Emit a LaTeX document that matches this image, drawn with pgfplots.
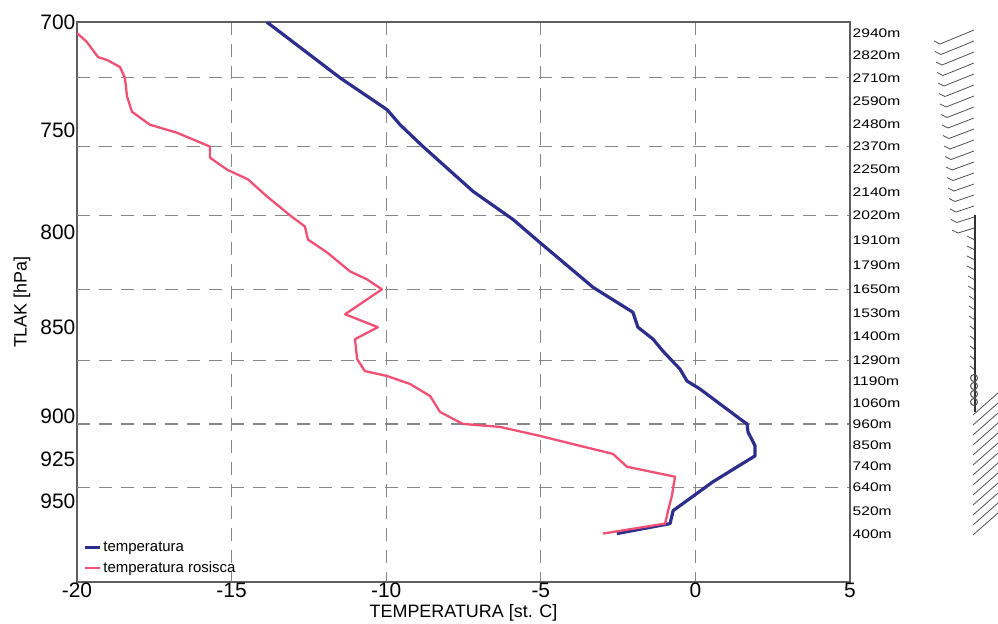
\documentclass[border=0pt]{standalone}
\usepackage{fontspec}
\setmainfont{Liberation Sans}
\usepackage{graphicx}
\usepackage{pgfplots}
\pgfplotsset{compat=1.18}

\definecolor{tblue}{RGB}{45,45,140}
\definecolor{tpink}{RGB}{240,80,115}
\definecolor{gridgray}{RGB}{135,135,135}
\definecolor{axgray}{RGB}{95,95,95}
\definecolor{barbgray}{RGB}{80,80,80}
\newcommand{\hl}[1]{\scalebox{1.25}[1]{#1}}

\begin{document}
\begin{tikzpicture}
\path[use as bounding box] (-77bp,-42bp) rectangle (921bp,582bp);

% main sounding
\begin{axis}[
    name=main, at={(0,0)}, anchor=south west,
    scale only axis, width=773bp, height=560bp,
    xmin=-20, xmax=5,
    ymode=log, y dir=reverse, ymin=700, ymax=1000,
    xtick={-20,-15,-10,-5,0,5}, xticklabels={-20,-15,-10,-5,0,5},
    ytick={700,750,800,850,900,925,950},
    yticklabels={700,750,800,850,900,925,950},
    yminorticks=false,
    xmajorgrids,
    grid style={gridgray, dash pattern=on 13bp off 9bp, line width=1.2bp},
    extra y ticks={725.34,757.82,791.75,829.84,868.14,904.14,941.64},
    extra y tick labels={},
    extra y tick style={grid=major},
    major tick length=0,
    axis line style={axgray, line width=1.5bp},
    tick label style={font=\fontsize{21}{24}\selectfont},
    xticklabel style={inner sep=1bp},
    yticklabel style={inner sep=1.5bp},
    xlabel={TEMPERATURA [st. C]},
    ylabel={TLAK [hPa]},
    xlabel style={at={(axis description cs:0.5,-0.054)}, anchor=center, font=\fontsize{18}{20}\selectfont},
    ylabel style={at={(axis description cs:-0.0712,0.5)}, anchor=center, font=\fontsize{18}{20}\selectfont},
    legend style={at={(0.004,0.08)}, anchor=north west, draw=none, fill=none,
        font=\fontsize{15}{17}\selectfont, row sep=5bp, cells={anchor=west}},
    legend image code/.code={\draw[#1] (0bp,0bp) -- (15bp,0bp);},
]
\addplot[tblue, line width=3.2bp, line join=round] coordinates {
    (-13.86,700) (-13.01,708.94) (-11.49,725.34) (-9.97,740.23) (-9.55,747.30)
    (-8.81,757.82) (-7.19,779.78) (-5.90,793.77) (-5.03,805.45) (-3.31,828.79)
    (-2.02,842.07) (-1.86,850.11) (-1.37,856.61) (-1.05,863.16) (-0.50,873.08)
    (-0.27,879.78) (0.15,884.26) (1.44,901.24) (1.67,904.14) (1.70,908.74)
    (1.93,916.86) (1.93,922.70) (0.57,938.06) (-0.72,955.49) (-0.82,963.41)
    (-2.54,969.54)
};
\addlegendentry{temperatura}
\addplot[tpink, line width=2.3bp, line join=round] coordinates {
    (-20.00,704.9) (-19.68,708.94) (-19.32,715.73) (-19.03,717.10) (-18.61,720.29)
    (-18.45,725.34) (-18.38,734.14) (-18.22,741.17) (-17.64,747.30) (-16.77,751.11)
    (-15.70,757.82) (-15.70,763.12) (-15.15,768.96) (-14.47,773.86) (-13.86,782.25)
    (-13.11,791.75) (-12.63,797.31) (-12.53,803.92) (-11.91,810.58) (-11.17,820.41)
    (-10.62,824.59) (-10.14,829.84) (-11.33,843.12) (-10.27,850.11) (-11.01,856.61)
    (-10.94,867.55) (-10.69,874.19) (-9.97,876.97) (-9.23,881.43) (-8.58,888.18)
    (-8.26,897.25) (-7.52,904.14) (-6.32,905.86) (-5.03,911.05) (-3.73,916.86)
    (-2.67,921.53) (-2.21,929.16) (-0.66,935.08) (-0.76,946.43) (-0.89,956.10)
    (-0.98,963.41) (-2.99,969.54)
};
\addlegendentry{temperatura rosisca}
\end{axis}

% heights on the right
\begin{axis}[
    at={(0,0)}, anchor=south west,
    scale only axis, width=773bp, height=560bp,
    xmin=-20, xmax=5,
    ymode=log, y dir=reverse, ymin=700, ymax=1000,
    axis y line*=right, axis x line=none,
    ytick={704.77,715.05,725.34,736.01,746.83,757.82,768.96,780.28,791.75,804.27,
           816.93,829.84,842.45,855.17,868.14,879.96,892.00,904.14,916.46,928.99,
           941.64,955.67,969.98},
    yticklabels={\hl{2940m},\hl{2820m},\hl{2710m},\hl{2590m},\hl{2480m},\hl{2370m},
           \hl{2250m},\hl{2140m},\hl{2020m},\hl{1910m},\hl{1790m},\hl{1650m},
           \hl{1530m},\hl{1400m},\hl{1290m},\hl{1190m},\hl{1060m},\hl{960m},
           \hl{850m},\hl{740m},\hl{640m},\hl{520m},\hl{400m}},
    yminorticks=false,
    major tick length=0,
    axis line style={axgray, line width=1.5bp},
    yticklabel style={font=\fontsize{12.5}{14}\selectfont, inner sep=2.5bp},
]
\addplot[draw=none, forget plot] coordinates {(0,800)};
\end{axis}

% wind barbs
\begin{axis}[
    at={(843bp,0)}, anchor=south west,
    scale only axis, width=80bp, height=560bp,
    xmin=920, xmax=1000, ymin=22, ymax=582, y dir=reverse,
    hide axis, clip=false, unbounded coords=jump,
]
\addplot[barbgray, line width=0.8bp] coordinates {
    (974,30)(940,44)(934,41) (nan,nan)
    (974,41)(941,54.5)(935,51.5) (nan,nan)
    (974,52)(942,65)(936,62) (nan,nan)
    (974,63)(943,75.5)(937,72.5) (nan,nan)
    (974,74)(944,86)(938,83) (nan,nan)
    (974,85)(945,96.5)(939,93.5) (nan,nan)
    (974,96)(946,107)(940,104) (nan,nan)
    (974,107)(947,117.5)(941,114.5) (nan,nan)
    (974,118)(948,128)(942,125) (nan,nan)
    (974,129)(949,138.5)(943,135.5) (nan,nan)
    (974,140)(950,149)(944,146) (nan,nan)
    (974,151)(951,159.5)(945,156.5) (nan,nan)
    (974,162)(952,170)(946,167) (nan,nan)
    (974,173)(953,180.5)(947,177.5) (nan,nan)
    (974,184)(954,191)(948,188) (nan,nan)
    (974,195)(955,201.5)(949,198.5) (nan,nan)
    (974,206)(956,212)(950,209) (nan,nan)
    (974,217)(957,222.5)(951,219.5) (nan,nan)
    (974,228)(958,233)(952,230)
};
\addplot[barbgray, line width=0.8bp] coordinates {
    (975,240)(967,236) (nan,nan) (975,250)(967,246) (nan,nan)
    (975,260)(967,256) (nan,nan) (975,270)(967,266) (nan,nan)
    (975,280)(968,276) (nan,nan) (975,290)(968,286) (nan,nan)
    (975,300)(969,296) (nan,nan) (975,310)(969,306) (nan,nan)
    (975,320)(969,316) (nan,nan) (975,330)(970,326) (nan,nan)
    (975,340)(970,336) (nan,nan) (975,350)(970,346) (nan,nan)
    (975,360)(970,356) (nan,nan) (975,370)(970,366)
};
\addplot[black!80, line width=1.6bp] coordinates {(975,215)(975,412)};
\addplot[only marks, mark=o, mark size=3.5bp, barbgray, mark options={line width=1bp}]
    coordinates {(974,378)(974,386)(974,394)(974,402)};
\addplot[barbgray, line width=0.8bp] coordinates {
    (973,415)(998,393) (nan,nan) (973,425)(998,403) (nan,nan)
    (973,435)(998,413) (nan,nan) (973,445)(998,423) (nan,nan)
    (973,455)(998,433) (nan,nan) (973,465)(998,443) (nan,nan)
    (973,475)(998,453) (nan,nan) (973,485)(998,463) (nan,nan)
    (973,495)(998,473) (nan,nan) (973,505)(998,483) (nan,nan)
    (973,515)(998,493) (nan,nan) (973,525)(998,503) (nan,nan)
    (973,535)(998,513)
};
\end{axis}
\end{tikzpicture}
\end{document}
